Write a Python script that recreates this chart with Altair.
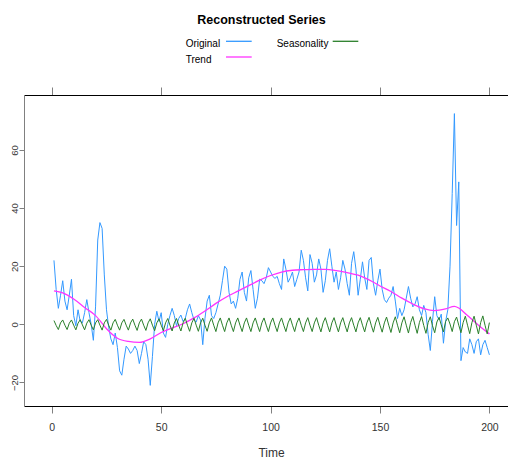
import altair as alt
import pandas as pd

# ---------------- data ----------------
time = list(range(1, 201))

original = [
    22, 12, 5.5, 10, 15, 8, 5, 10, 15.5, 3,
    -0.5, 5, 1, 0.5, 4, 8.5, 4, 0, -5.5, 6,
    29, 35, 33, 17, 5, -1, -5, -7, -3, -8,
    -16, -17.5, -12, -7.5, -8.5, -10, -9, -7.5, -9, -13.5,
    -10, -6, -7, -12, -21, -11, 0, 4.5, 1, 4,
    -3, -4.5, 0, 3, 5.5, 3, -0.5, 2, 3.2, 1,
    2, 5, 7, 4, 1.5, 0.8, 3, 1.5, -7, 2,
    8, 10, 3, 2, 4, 7, 10, 15, 20, 19,
    11, 7, 8, 5.5, 9, 15.5, 18, 11, 8, 16,
    18.5, 12, 5.5, 9, 15.5, 15, 14, 16, 19.5, 18,
    16.5, 15.8, 16.5, 14, 12, 22.5, 19, 14.5, 16, 18,
    13, 15.5, 18, 25.5, 22, 16, 11.5, 24, 21, 14.5,
    17, 22.5, 19, 11, 15, 22, 26, 20, 14.5, 18,
    12, 16, 22, 19, 14, 10, 21, 25, 19, 10,
    15.5, 21.5, 16, 12, 22, 23, 14, 10, 15, 19,
    12, 8.5, 7.5, 9, 10, 13, 8, 2, 5.5, 3,
    5, 9, 13, 9, 6, 7, 9.5, 5, 3, 6.5,
    4, -3.5, -9, 1, 9.5, 3, 1.5, 3.5, -6.5, 1,
    5, 20, 45, 72.5, 34, 49, -12.5, -8, -9.5, -10,
    -5, -7, -10, -6, -5, -10.5, -7, -5.5, -8, -10.5,
]

trend_time = [1, 5, 10, 15, 20, 25, 30, 35, 40, 45, 50, 55, 60, 65, 70, 75,
              80, 85, 90, 95, 100, 105, 110, 115, 120, 125, 130, 135, 140,
              145, 150, 155, 160, 165, 170, 175, 180, 184, 186, 190, 195, 200]
trend = [11.5, 10.8, 8.7, 5.8, 3.0, -1.5, -4.8, -5.9, -6.2, -5.0, -2.8, -1.3,
         0.2, 2.2, 4.6, 7.2, 9.5, 11.4, 13.3, 15.2, 16.8, 18.0, 18.6, 18.8,
         18.9, 18.9, 18.5, 17.8, 16.9, 15.3, 13.2, 11.3, 9.0, 7.0, 5.4, 4.7,
         5.3, 6.2, 5.6, 3.0, -0.3, -3.3]

seasonality = [
    1.3, -0.4, -1.8, 0.5,   1.5, -0.3, -1.8, 0.4,   1.5, -0.3, -1.9, 0.4,
    1.6, -0.2, -1.9, 0.4,   1.6, -0.3, -1.9, 0.5,   1.6, -0.3, -2.0, 0.5,
    1.7, -0.3, -2.0, 0.5,   1.7, -0.3, -2.0, 0.5,   1.7, -0.3, -2.0, 0.5,
    1.8, -0.3, -2.1, 0.5,   1.8, -0.3, -2.1, 0.5,   1.9, -0.3, -2.2, 0.5,
    1.9, -0.3, -2.2, 0.5,   2.0, -0.3, -2.3, 0.5,   2.0, -0.3, -2.3, 0.5,
    2.1, -0.3, -2.4, 0.5,   2.1, -0.3, -2.4, 0.5,   2.1, -0.3, -2.4, 0.5,
    2.2, -0.3, -2.5, 0.5,   2.2, -0.3, -2.5, 0.5,   2.2, -0.3, -2.5, 0.5,
    2.2, -0.3, -2.5, 0.5,   2.2, -0.3, -2.5, 0.5,   2.2, -0.3, -2.5, 0.5,
    2.2, -0.3, -2.5, 0.5,   2.2, -0.3, -2.5, 0.5,   2.2, -0.3, -2.5, 0.5,
    2.2, -0.3, -2.5, 0.5,   2.2, -0.3, -2.5, 0.5,   2.3, -0.3, -2.5, 0.5,
    2.3, -0.3, -2.6, 0.5,   2.3, -0.3, -2.6, 0.5,   2.3, -0.3, -2.6, 0.5,
    2.3, -0.3, -2.6, 0.5,   2.3, -0.3, -2.6, 0.5,   2.3, -0.3, -2.6, 0.5,
    2.4, -0.3, -2.7, 0.5,   2.4, -0.3, -2.7, 0.5,   2.5, -0.3, -2.8, 0.5,
    2.6, -0.3, -2.9, 0.5,   2.6, -0.3, -3.0, 0.6,   2.7, -0.3, -3.1, 0.6,
    2.7, -0.4, -3.1, 0.6,   2.6, -0.5, -2.9, 0.8,   2.4, -0.2, -2.6, 1.0,
    2.2, 0.1, -2.5, 0.9,    2.5, -0.3, -2.9, 0.6,   2.8, -0.3, -3.2, 0.6,
    2.8, -0.3, -3.3, 0.6,   2.9, -0.3, -3.3, 0.6,
]

x_ticks = [0, 50, 100, 150, 200]
y_ticks = [-20, 0, 20, 40, 60]

chart_title = "Reconstructed Series"
legend_labels = ["Original", "Trend", "Seasonality"]
legend_colors = ["#3399ff", "#ff33ff", "#2a7f2a"]
x_title = "Time"

FONT = "Liberation Sans, Arial, sans-serif"

orig_df = pd.DataFrame({"Time": time, "value": original})
seas_df = pd.DataFrame({"Time": time, "value": seasonality})
trend_df = pd.DataFrame({"Time": trend_time, "value": trend})

xscale = alt.Scale(domain=[-12.7, 208.5], nice=False, zero=False)
yscale = alt.Scale(domain=[-28.1, 78.9], nice=False, zero=False)

x_bottom = alt.X(
    "Time:Q", scale=xscale,
    axis=alt.Axis(orient="bottom", values=x_ticks, title=x_title, grid=False,
                  domainColor="#000000", domainWidth=1, tickColor="#808080",
                  tickSize=7, labelPadding=9, labelFont=FONT, labelFontSize=10.5,
                  labelColor="#333333", labelFlush=False, titleFont=FONT,
                  titleFontSize=12, titleFontWeight="normal", titleColor="#333333",
                  titleX=247, titleY=50, titleBaseline="alphabetic"),
)
x_top = alt.X(
    "Time:Q", scale=xscale,
    axis=alt.Axis(orient="top", values=x_ticks, labels=False, title=None,
                  grid=False, domainColor="#000000", domainWidth=1,
                  tickColor="#808080", tickSize=8),
)
x_none = alt.X("Time:Q", scale=xscale, axis=None)
y_left = alt.Y(
    "value:Q", scale=yscale,
    axis=alt.Axis(orient="left", values=y_ticks, title=None, grid=False,
                  domainColor="#808080", tickColor="#808080", tickSize=5,
                  labelAngle=270, labelAlign="center", labelBaseline="alphabetic",
                  labelPadding=2, labelFont=FONT, labelFontSize=9.5,
                  labelColor="#333333"),
)

orig_line = alt.Chart(orig_df).mark_line(
    color=legend_colors[0], strokeWidth=1
).encode(x=x_bottom, y=y_left)

trend_line = alt.Chart(trend_df).mark_line(
    color=legend_colors[1], strokeWidth=1.3, interpolate="monotone"
).encode(x=x_none, y=y_left)

seas_line = alt.Chart(seas_df).mark_line(
    color=legend_colors[2], strokeWidth=1
).encode(x=x_top, y=y_left)

# title and legend (R-style: label, then line sample)
title_mark = alt.Chart().mark_text(
    text=chart_title, font=FONT, fontSize=12.5, fontWeight="bold",
    align="center", baseline="alphabetic", color="#000000"
).encode(x=alt.value(237.5), y=alt.value(-71.5))

leg_pos = [(161.7, -48.2, 202, 227.7, -53.7),
           (161.7, -32.2, 202, 227.7, -38.0),
           (252.7, -48.2, 308.7, 334.3, -53.7)]
legend_layers = []
for lab, col, (tx, ty, lx1, lx2, ly) in zip(legend_labels, legend_colors, leg_pos):
    legend_layers.append(
        alt.Chart().mark_text(text=lab, font=FONT, fontSize=10, align="left",
                              baseline="alphabetic", color="#000000")
        .encode(x=alt.value(tx), y=alt.value(ty))
    )
    legend_layers.append(
        alt.Chart().mark_rule(color=col, strokeWidth=1.3)
        .encode(x=alt.value(lx1), x2=alt.value(lx2), y=alt.value(ly))
    )

chart = alt.layer(
    orig_line, trend_line, seas_line, title_mark, *legend_layers
).resolve_axis(x="independent").properties(
    width=484, height=311,
    autosize=alt.AutoSizeParams(type="none"),
    padding={"left": 16, "top": 87, "right": 0, "bottom": 53},
    background="white",
).configure_view(stroke="transparent")

chart.save("out.html", embed_options={"renderer": "svg", "actions": False})
